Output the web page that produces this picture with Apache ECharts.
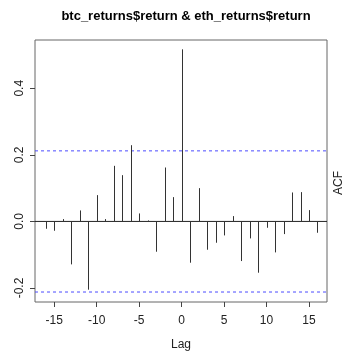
<!DOCTYPE html>
<html>
<head>
<meta charset="utf-8">
<script src="https://cdn.jsdelivr.net/npm/echarts@6/dist/echarts.min.js"></script>
<style>
  html, body { margin: 0; padding: 0; background: #fff; }
  #chart { width: 352px; height: 360px; }
</style>
</head>
<body>
<div id="chart"></div>
<script>
// lags and cross-correlation values
var lags = [-16, -15, -14, -13, -12, -11, -10, -9, -8, -7, -6, -5, -4, -3, -2, -1, 0,
            1, 2, 3, 4, 5, 6, 7, 8, 9, 10, 11, 12, 13, 14, 15, 16];
var acf = [-0.022, -0.028, 0.007, -0.129, 0.033, -0.205, 0.079, 0.007, 0.167, 0.139, 0.229, 0.024, 0.003, -0.091, 0.162, 0.073, 0.517,
           -0.124, 0.100, -0.085, -0.064, -0.042, 0.016, -0.119, -0.051, -0.154, -0.019, -0.093, -0.038, 0.087, 0.088, 0.034, -0.034];
var ciBound = 0.212;
var xTicks = [-15, -10, -5, 0, 5, 10, 15];
var yTicks = [-0.2, 0.0, 0.2, 0.4];
var xMin = -17.27, xMax = 17.12;

var font = 'Liberation Sans, Arial, sans-serif';
var myChart = echarts.init(document.getElementById('chart'));

var data = [];
for (var i = 0; i < lags.length; i++) {
    data.push([lags[i], acf[i]]);
}

// horizontal reference line across the whole plot
function hLine(y, color, type) {
    return {
        type: 'line',
        data: [[xMin, y], [xMax, y]],
        symbol: 'none',
        silent: true,
        lineStyle: { color: color, type: type, width: 1 },
        z: 1
    };
}

var option = {
    animation: false,
    title: {
        text: 'btc_returns$return & eth_returns$return',
        left: 181,
        top: 5,
        textAlign: 'center',
        textStyle: { fontFamily: font, fontSize: 13, fontWeight: 'bold', color: '#000' }
    },
    grid: {
        left: 35, top: 40, width: 292, height: 262,
        show: true, borderColor: '#666', borderWidth: 1, backgroundColor: '#fff'
    },
    xAxis: {
        type: 'value',
        min: xMin,
        max: xMax,
        axisLine: { show: false, onZero: false },
        splitLine: { show: false },
        axisTick: { show: true, length: 5, customValues: xTicks, lineStyle: { color: '#444' } },
        axisLabel: {
            customValues: xTicks, margin: 13,
            fontFamily: font, fontSize: 12, color: '#222'
        }
    },
    yAxis: {
        type: 'value',
        min: -0.242,
        max: 0.545,
        axisLine: { show: false, onZero: false },
        splitLine: { show: false },
        axisTick: { show: true, length: 5, customValues: yTicks, lineStyle: { color: '#444' } },
        axisLabel: {
            customValues: yTicks, rotate: 90, margin: 9,
            fontFamily: font, fontSize: 12, color: '#222',
            formatter: function (v) { return v.toFixed(1); }
        }
    },
    graphic: [
        {
            type: 'text', x: 181, y: 345,
            style: { text: 'Lag', font: '12px ' + font, fill: '#222', textAlign: 'center', textVerticalAlign: 'middle' }
        },
        {
            type: 'text', x: 339, y: 183, rotation: Math.PI / 2,
            style: { text: 'ACF', font: '12px ' + font, fill: '#222', textAlign: 'center', textVerticalAlign: 'middle' }
        }
    ],
    series: [
        hLine(ciBound, '#4d4dff', [3, 3]),
        hLine(-ciBound, '#4d4dff', [3, 3]),
        hLine(0, '#222', 'solid'),
        {
            type: 'custom',
            data: data,
            z: 2,
            renderItem: function (params, api) {
                var p0 = api.coord([api.value(0), 0]);
                var p1 = api.coord([api.value(0), api.value(1)]);
                var x = Math.round(p0[0]) + 0.5;
                return {
                    type: 'line',
                    shape: { x1: x, y1: p0[1], x2: x, y2: p1[1] },
                    style: { stroke: '#333', lineWidth: 1 }
                };
            }
        }
    ]
};
myChart.setOption(option);
</script>
</body>
</html>
